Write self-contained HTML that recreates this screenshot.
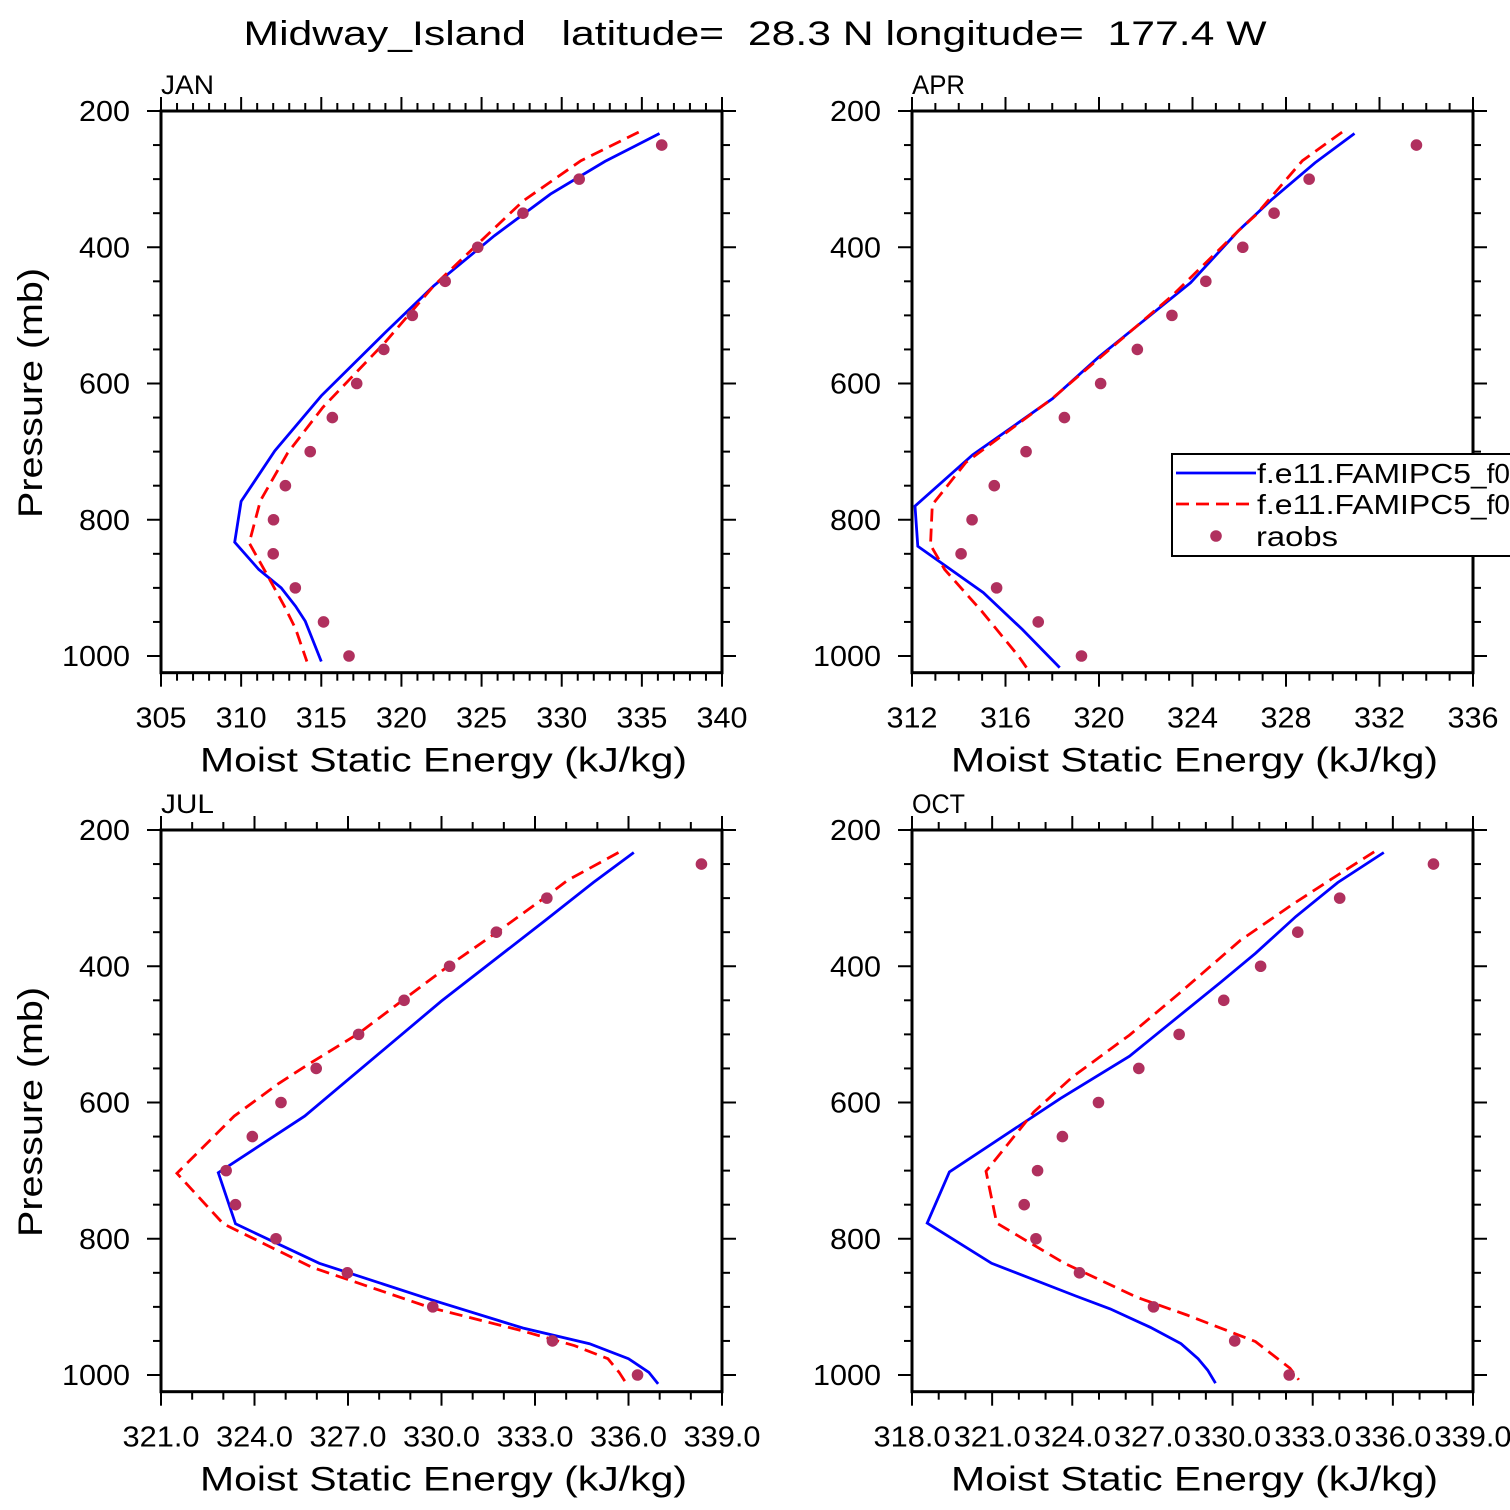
<!DOCTYPE html>
<html><head><meta charset="utf-8"><style>
html,body{margin:0;padding:0;background:#fff;}
svg{display:block;}
text{font-family:"Liberation Sans","DejaVu Sans",sans-serif;fill:#000;white-space:pre;}
</style></head><body>
<svg id="chart" width="1510" height="1510" viewBox="0 0 1510 1510" xmlns="http://www.w3.org/2000/svg">
<text x="755" y="45" text-anchor="middle" font-size="34" textLength="1023" lengthAdjust="spacingAndGlyphs" xml:space="preserve">Midway_Island   latitude=  28.3 N longitude=  177.4 W</text>
</svg>
<script>
// ---- data ----
const panelNames = ["JAN","APR","JUL","OCT"];
const obsLevels = [250,300,350,400,450,500,550,600,650,700,750,800,850,900,950,1000];

const janBlueP = [233,274,322,383,457,525,618,699,773,833,873,900,927,949,1008];
const janBlueV = [336.1,332.7,329.3,325.8,322.0,319.0,315.0,312.1,310.0,309.6,311.1,312.5,313.4,314.0,315.0];
const janRedP = [231,273,332,410,457,539,635,702,772,834,880,927,960,1008];
const janRedV = [334.8,331.2,327.6,324.1,322.0,319.0,315.1,312.9,311.2,310.5,311.6,312.7,313.4,314.1];
const janObs = [336.24,331.09,327.58,324.76,322.73,320.68,318.90,317.21,315.69,314.31,312.76,312.02,312.0,313.38,315.14,316.73];

const aprBlueP = [233,276,331,376,452,561,622,705,780,839,907,961,1017];
const aprBlueV = [330.93,329.24,327.36,325.96,323.92,319.99,318.02,314.59,312.13,312.25,315.05,316.72,318.32];
const aprRedP = [231,273,353,376,472,622,716,778,837,873,935,1000,1017];
const aprRedV = [330.4,328.7,326.7,325.96,323.1,318.0,314.3,312.87,312.79,313.4,315.0,316.55,316.9];
const aprObs = [333.58,328.99,327.49,326.15,324.57,323.12,321.64,320.07,318.52,316.88,315.52,314.57,314.10,315.62,317.40,319.25];

const julBlueP = [233,277,333,451,620,703,778,836,889,931,954,976,996,1013];
const julBlueV = [336.17,334.87,333.32,330.0,325.61,322.84,323.39,326.08,329.64,332.61,334.75,336.0,336.65,336.95];
const julRedP = [233,274,299,350,399,448,499,544,572,620,704,778,842,901,934,957,976,996,1013];
const julRedV = [335.68,334.04,333.32,331.78,330.24,328.81,327.33,325.73,324.78,323.35,321.51,323.0,325.85,329.64,332.49,334.27,335.34,335.7,335.94];
const julObs = [338.34,333.38,331.76,330.26,328.80,327.34,325.98,324.85,323.93,323.09,323.39,324.69,326.98,329.72,333.56,336.29];

const octBlueP = [233,277,327,381,423,532,594,702,777,836,884,903,930,954,976,993,1012];
const octBlueV = [335.66,333.94,332.37,330.86,329.57,326.14,323.56,319.40,318.57,320.98,324.13,325.42,326.92,328.07,328.71,329.07,329.36];
const octRedP = [232,266,308,362,440,501,563,614,701,777,836,886,912,951,990,1007];
const octRedV = [335.30,333.94,332.29,330.29,328.0,326.14,323.99,322.56,320.77,321.17,323.71,326.42,328.29,330.86,332.15,332.48];
const octObs = [337.52,334.01,332.44,331.05,329.67,328.0,326.49,324.98,323.63,322.70,322.20,322.64,324.27,327.04,330.08,332.12];

const janTicks = ["305","310","315","320","325","330","335","340"];
const aprTicks = ["312","316","320","324","328","332","336"];
const julTicks = ["321.0","324.0","327.0","330.0","333.0","336.0","339.0"];
const octTicks = ["318.0","321.0","324.0","327.0","330.0","333.0","336.0","339.0"];
const yTickLabels = ["200","400","600","800","1000"];

// ---- drawing ----
const NS = "http://www.w3.org/2000/svg";
const svg = document.getElementById("chart");
function mk(tag, attrs, parent){
  const e = document.createElementNS(NS, tag);
  for (const k in attrs) e.setAttribute(k, attrs[k]);
  (parent||svg).appendChild(e);
  return e;
}
function tlen(s){ let n=0; for (const c of s){ n += (c==='.')?9:17; } return n; }

const panels = [
  {name:"JAN", x0:161, top:111, xmin:305, xmax:340, minorStep:1, ticks:janTicks,
   blueP:janBlueP, blueV:janBlueV, redP:janRedP, redV:janRedV, obs:janObs},
  {name:"APR", x0:912, top:111, xmin:312, xmax:336, minorStep:1, ticks:aprTicks,
   blueP:aprBlueP, blueV:aprBlueV, redP:aprRedP, redV:aprRedV, obs:aprObs},
  {name:"JUL", x0:161, top:830, xmin:321, xmax:339, minorStep:1, ticks:julTicks,
   blueP:julBlueP, blueV:julBlueV, redP:julRedP, redV:julRedV, obs:julObs},
  {name:"OCT", x0:912, top:830, xmin:318, xmax:339, minorStep:1, ticks:octTicks,
   blueP:octBlueP, blueV:octBlueV, redP:octRedP, redV:octRedV, obs:octObs}
];
const W = 561, PPM = 0.68125, PMAX = 1024.5;

panels.forEach((P, idx) => {
  const key = P.name.toLowerCase();
  const g = mk("g", {});
  
  
  const xs = v => P.x0 + (v - P.xmin) / (P.xmax - P.xmin) * W;
  const ys = p => P.top + (p - 200) * PPM;
  const x1 = P.x0 + W, yb = ys(PMAX);

  const cp = mk("clipPath", {id:"clip"+idx}, g);
  mk("rect", {x:P.x0, y:P.top, width:W, height:yb-P.top}, cp);

  const plot = mk("g", {"clip-path":"url(#clip"+idx+")"}, g);
  const bl = mk("polyline", {points:P.blueP.map((p,i)=>xs(P.blueV[i]).toFixed(1)+","+ys(p).toFixed(1)).join(" "),
    fill:"none", stroke:"#0000ff", "stroke-width":2.8, "stroke-linejoin":"miter"}, plot);
  
  
  const rl = mk("polyline", {points:P.redP.map((p,i)=>xs(P.redV[i]).toFixed(1)+","+ys(p).toFixed(1)).join(" "),
    fill:"none", stroke:"#ff0000", "stroke-width":2.8, "stroke-dasharray":"13 7"}, plot);
  
  
  P.obs.forEach((v,i) => {
    const c = mk("circle", {cx:xs(v), cy:ys(obsLevels[i]), r:5.8, fill:"#b0305e"}, g);
    
    
  });

  const fr = mk("rect", {x:P.x0, y:P.top, width:W, height:yb-P.top, fill:"none", stroke:"#000", "stroke-width":3}, g);
  
  

  for (let v = P.xmin; v <= P.xmax + 1e-6; v += P.minorStep) {
    const major = P.ticks.some(t => Math.abs(parseFloat(t) - v) < 1e-6);
    const L = major ? 14 : 8, X = xs(v);
    mk("line", {x1:X, x2:X, y1:yb, y2:yb+L, stroke:"#000", "stroke-width":2}, g);
    mk("line", {x1:X, x2:X, y1:P.top, y2:P.top-L, stroke:"#000", "stroke-width":2}, g);
  }
  P.ticks.forEach(t => {
    const tx = mk("text", {x:xs(parseFloat(t)), y:yb+55, "text-anchor":"middle", "font-size":29,
      textLength:tlen(t), lengthAdjust:"spacingAndGlyphs"}, g);
    tx.textContent = t;
    
    
  });
  for (let p = 200; p <= 1000; p += 50) {
    const major = p % 200 === 0;
    const L = major ? 14 : 8, Y = ys(p);
    mk("line", {x1:P.x0, x2:P.x0-L, y1:Y, y2:Y, stroke:"#000", "stroke-width":2}, g);
    mk("line", {x1:x1, x2:x1+L, y1:Y, y2:Y, stroke:"#000", "stroke-width":2}, g);
  }
  yTickLabels.forEach(t => {
    const ty = mk("text", {x:P.x0-31, y:ys(parseFloat(t))+10, "text-anchor":"end", "font-size":29,
      textLength:tlen(t), lengthAdjust:"spacingAndGlyphs"}, g);
    ty.textContent = t;
    
    
  });
  const pl = mk("text", {x:P.x0, y:P.top-17, "font-size":27, textLength:53, lengthAdjust:"spacingAndGlyphs"}, g);
  pl.textContent = P.name;
  
  
  const xt = mk("text", {x:P.x0+W/2+2, y:yb+99, "text-anchor":"middle", "font-size":34,
    textLength:487, lengthAdjust:"spacingAndGlyphs"}, g);
  xt.textContent = "Moist Static Energy (kJ/kg)";
  
  
  if (P.x0 < 500) {
    const cy = P.top + 282;
    const yt = mk("text", {x:0, y:0, transform:"translate(42,"+cy+") rotate(-90)", "text-anchor":"middle",
      "font-size":34, textLength:250, lengthAdjust:"spacingAndGlyphs"}, g);
    yt.textContent = "Pressure (mb)";
    
    
  }
});

const lg = mk("g", {});


mk("rect", {x:1172, y:454, width:360, height:102, fill:"#fff", stroke:"#000", "stroke-width":2}, lg);
mk("line", {x1:1176, x2:1256, y1:473, y2:473, stroke:"#0000ff", "stroke-width":2.8}, lg);
mk("line", {x1:1176, x2:1256, y1:504, y2:504, stroke:"#ff0000", "stroke-width":2.8, "stroke-dasharray":"13 7"}, lg);
mk("circle", {cx:1216, cy:536, r:5.8, fill:"#b0305e"}, lg);
const l1 = mk("text", {x:1257, y:483, "font-size":28, textLength:214, lengthAdjust:"spacingAndGlyphs"}, lg);
l1.textContent = "f.e11.FAMIPC5";


const l1b = mk("text", {x:1471, y:483, "font-size":28}, lg);
l1b.textContent = "_f09_f09";
const l2 = mk("text", {x:1257, y:514, "font-size":28, textLength:214, lengthAdjust:"spacingAndGlyphs"}, lg);
l2.textContent = "f.e11.FAMIPC5";


const l2b = mk("text", {x:1471, y:514, "font-size":28}, lg);
l2b.textContent = "_f09_f09";
const l3 = mk("text", {x:1256, y:546, "font-size":28, textLength:82, lengthAdjust:"spacingAndGlyphs"}, lg);
l3.textContent = "raobs";


</script>
</body></html>
